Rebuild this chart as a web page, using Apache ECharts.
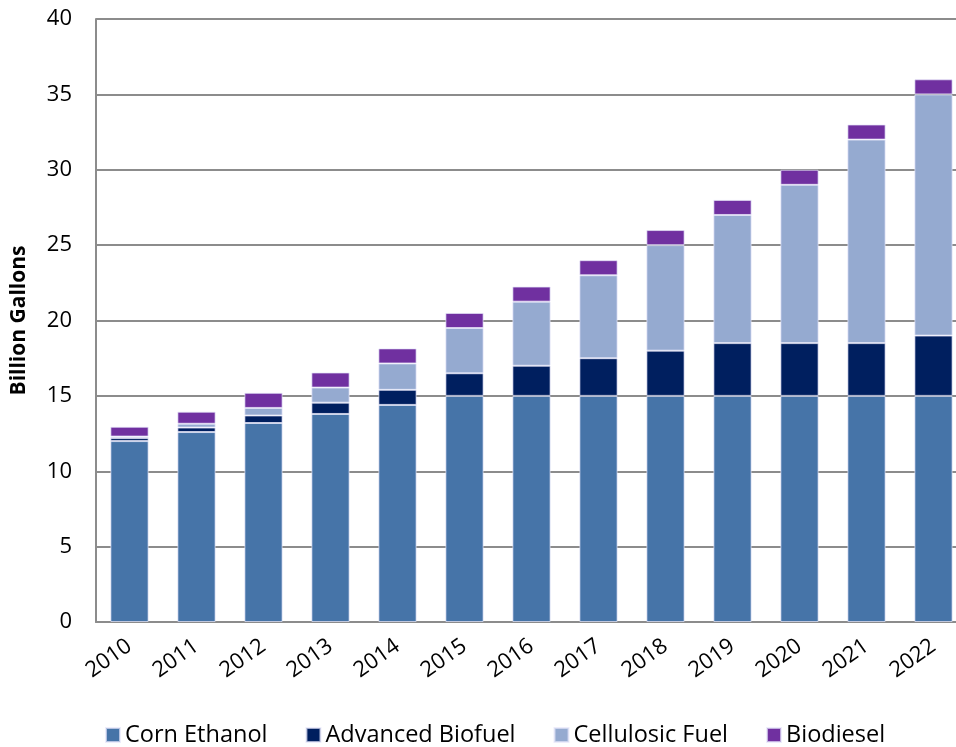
<!DOCTYPE html>
<html>
<head>
<meta charset="utf-8">
<script src="https://cdn.jsdelivr.net/npm/echarts@6/dist/echarts.min.js"></script>
<style>
  html, body { margin: 0; padding: 0; background: #fff; }
  #chart { width: 956px; height: 747px; }
</style>
</head>
<body>
<div id="chart"></div>
<script>
const years = ['2010', '2011', '2012', '2013', '2014', '2015', '2016', '2017', '2018', '2019', '2020', '2021', '2022']
const cornEthanol = [12.0, 12.6, 13.2, 13.8, 14.4, 15, 15, 15, 15, 15, 15, 15, 15]
const advancedBiofuel = [0.2, 0.3, 0.5, 0.75, 1.0, 1.5, 2.0, 2.5, 3.0, 3.5, 3.5, 3.5, 4.0]
const cellulosicFuel = [0.1, 0.25, 0.5, 1.0, 1.75, 3.0, 4.25, 5.5, 7.0, 8.5, 10.5, 13.5, 16.0]
const biodiesel = [0.65, 0.8, 1.0, 1.0, 1.0, 1.0, 1.0, 1.0, 1.0, 1.0, 1.0, 1.0, 1.0]
const yTicks = [0, 5, 10, 15, 20, 25, 30, 35, 40]

const fontFamily = '"Open Sans", "Liberation Sans", sans-serif'

const makeSeries = (name, data, color) => ({
  name,
  type: 'bar',
  stack: 'total',
  data,
  barCategoryGap: '43%',
  itemStyle: { color, borderColor: 'rgba(230,230,250,0.7)', borderWidth: 1 }
})

const chart = echarts.init(document.getElementById('chart'))
chart.setOption({
  animation: false,
  textStyle: { fontFamily },
  grid: { left: 96, top: 19, width: 871, height: 603, containLabel: false, outerBoundsMode: 'none' },
  legend: {
    bottom: -5,
    left: 100,
    itemWidth: 14,
    itemHeight: 14,
    itemGap: 38,
    icon: 'rect',
    textStyle: { fontSize: 23.5, color: '#000', fontFamily }
  },
  xAxis: {
    type: 'category',
    data: years,
    axisLine: { lineStyle: { color: '#8c8c8c', width: 2 } },
    axisTick: { show: false },
    axisLabel: { rotate: 35, fontSize: 22, color: '#000', margin: 22, interval: 0 }
  },
  yAxis: {
    type: 'value',
    min: yTicks[0],
    max: yTicks[yTicks.length - 1],
    interval: 5,
    name: 'Billion Gallons',
    nameLocation: 'middle',
    nameGap: 66,
    nameTextStyle: { fontSize: 21, fontWeight: 'bold', color: '#000' },
    axisLine: { show: true, lineStyle: { color: '#8c8c8c', width: 2 } },
    axisTick: { show: false },
    axisLabel: { fontSize: 22, color: '#000', margin: 24 },
    splitLine: { lineStyle: { color: '#8c8c8c', width: 2 } }
  },
  series: [
    makeSeries('Corn Ethanol', cornEthanol, '#4674A8'),
    makeSeries('Advanced Biofuel', advancedBiofuel, '#001F5F'),
    makeSeries('Cellulosic Fuel', cellulosicFuel, '#95AAD0'),
    makeSeries('Biodiesel', biodiesel, '#7030A0')
  ]
})
</script>
</body>
</html>
